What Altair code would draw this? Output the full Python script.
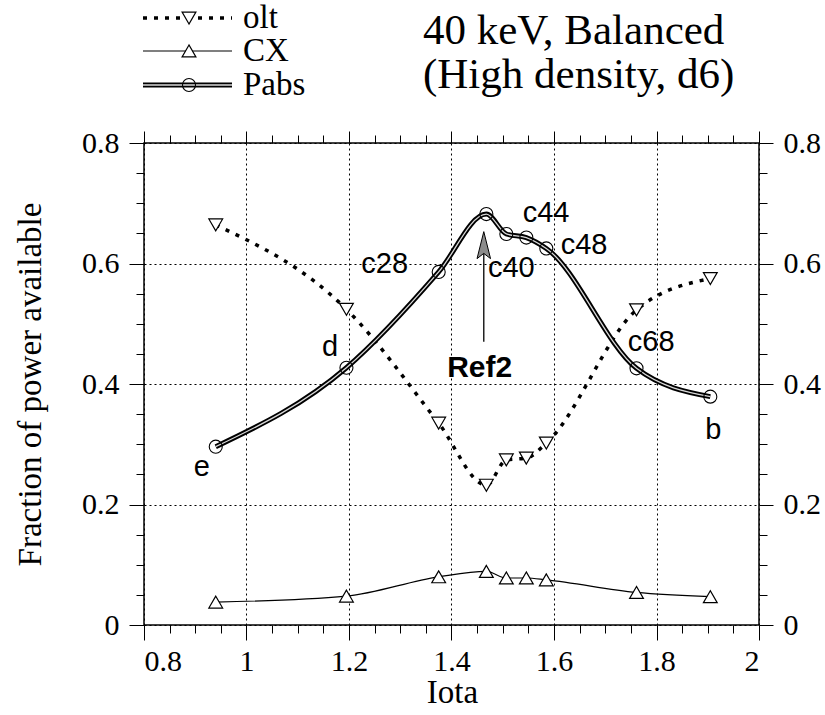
import altair as alt
import pandas as pd

# ---------------- data ----------------
iota = [0.940, 1.195, 1.375, 1.468, 1.507, 1.546, 1.585, 1.761, 1.905]
olt = [0.664, 0.524, 0.335, 0.232, 0.274, 0.277, 0.302, 0.523, 0.575]
cx = [0.038, 0.048, 0.080, 0.089, 0.078, 0.078, 0.075, 0.054, 0.047]
pabs = [0.296, 0.427, 0.586, 0.682, 0.649, 0.643, 0.625, 0.426, 0.379]

series_names = ["olt", "CX", "Pabs"]

x_major = [0.8, 1.0, 1.2, 1.4, 1.6, 1.8, 2.0]
x_minor = [0.85, 0.9, 0.95, 1.05, 1.1, 1.15, 1.25, 1.3, 1.35, 1.45, 1.5, 1.55,
           1.65, 1.7, 1.75, 1.85, 1.9, 1.95]
y_major = [0.0, 0.2, 0.4, 0.6, 0.8]
y_minor = [0.05, 0.1, 0.15, 0.25, 0.3, 0.35, 0.45, 0.5, 0.55, 0.65, 0.7, 0.75]

center_labels = ["e", "d", "b"]
center_label_x = [0.913, 1.163, 1.911]
center_label_y = [0.263, 0.462, 0.324]
left_labels = ["c28", "c40", "c44", "c48", "c68"]
left_label_x = [1.224, 1.471, 1.539, 1.613, 1.744]
left_label_y = [0.599, 0.593, 0.684, 0.631, 0.470]

ref_label = ["Ref2"]
ref_x = [1.455]
ref_y = [0.427]
arrow_x = [1.463]
arrow_y0 = [0.470]
arrow_y1 = [0.628]

title_lines = ["40 keV, Balanced", "(High density, d6)"]
x_title = "Iota"
y_title = "Fraction of power available"

# ---------------- tables ----------------
df = pd.DataFrame({"iota": iota, "olt": olt, "cx": cx, "pabs": pabs})
lab_c = pd.DataFrame({"t": center_labels, "x": center_label_x, "y": center_label_y})
lab_l = pd.DataFrame({"t": left_labels, "x": left_label_x, "y": left_label_y})
ref_df = pd.DataFrame({"t": ref_label, "x": ref_x, "y": ref_y})
arrow_df = pd.DataFrame({"x": arrow_x, "y0": arrow_y0, "y1": arrow_y1})

SERIF = "Liberation Serif"
SANS = "Liberation Sans"

xs = alt.Scale(domain=[0.8, 2.0], nice=False, zero=False)
ys = alt.Scale(domain=[0.0, 0.8], nice=False, zero=False)


def X(f):
    return alt.X(f, type="quantitative", scale=xs, axis=None)


def Y(f):
    return alt.Y(f, type="quantitative", scale=ys, axis=None)


base = alt.Chart(df)

olt_line = base.mark_line(color="black", strokeWidth=3.5, strokeDash=[4, 7],
                          interpolate="monotone").encode(x=X("iota"), y=Y("olt"))
cx_line = base.mark_line(color="black", strokeWidth=1.2,
                         interpolate="monotone").encode(x=X("iota"), y=Y("cx"))
pabs_outer = base.mark_line(color="black", strokeWidth=5,
                            interpolate="monotone").encode(x=X("iota"), y=Y("pabs"))
pabs_inner = base.mark_line(color="#d8d8d8", strokeWidth=1.3,
                            interpolate="monotone").encode(x=X("iota"), y=Y("pabs"))

olt_pts = base.mark_point(shape="triangle-down", size=190, filled=True, fill="white",
                          stroke="black", strokeWidth=1.2, opacity=1).encode(x=X("iota"), y=Y("olt"))
cx_pts = base.mark_point(shape="triangle-up", size=190, filled=True, fill="white",
                         stroke="black", strokeWidth=1.2, opacity=1).encode(x=X("iota"), y=Y("cx"))
pabs_pts = base.mark_point(shape="circle", size=170, filled=False,
                           stroke="black", strokeWidth=1.1, opacity=1).encode(x=X("iota"), y=Y("pabs"))

txt_c = alt.Chart(lab_c).mark_text(font=SANS, fontSize=29, align="center", baseline="middle",
                                   color="black").encode(x=X("x"), y=Y("y"), text="t:N")
txt_l = alt.Chart(lab_l).mark_text(font=SANS, fontSize=29, align="left", baseline="middle",
                                   color="black").encode(x=X("x"), y=Y("y"), text="t:N")
ref_txt = alt.Chart(ref_df).mark_text(font=SANS, fontSize=30, fontWeight="bold", align="center",
                                      baseline="middle", color="black").encode(x=X("x"), y=Y("y"), text="t:N")
arrow_rule = alt.Chart(arrow_df).mark_rule(color="black", strokeWidth=1.3).encode(
    x=X("x"), y=Y("y0"), y2="y1")
arrow_head = alt.Chart(arrow_df).mark_point(
    shape="M0,-1L0.45,0.8L0,0.45L-0.45,0.8Z", size=900, filled=True, fill="#8c8c8c",
    stroke="black", strokeWidth=1, opacity=1).encode(x=X("x"), y=Y("y1"))

# ---------------- axes ----------------
ax_df = pd.DataFrame({"x": [0.8], "y": [0.0]})
common = dict(labelFont=SERIF, labelColor="black", tickColor="black", domain=False,
              titleFont=SERIF, titleColor="black", titleFontWeight="normal")


def axis_layer(xaxis, yaxis):
    return alt.Chart(ax_df).mark_point(opacity=0).encode(
        x=alt.X("x:Q", scale=xs, axis=xaxis), y=alt.Y("y:Q", scale=ys, axis=yaxis))


bottom_major = alt.Axis(orient="bottom", values=x_major, format="~g", tickSize=15, labelFontSize=30,
                        labelPadding=6, grid=True, gridDash=[2, 3], gridColor="black", gridWidth=1,
                        gridOpacity=1, title=x_title, titleFontSize=33, titleX=308, titleY=67,
                        titleBaseline="middle", titleAlign="center", **common)
left_major = alt.Axis(orient="left", values=y_major, format="~g", tickSize=15, labelFontSize=30,
                      labelPadding=10, grid=True, gridDash=[2, 3], gridColor="black", gridWidth=1,
                      gridOpacity=1, title=y_title, titleFontSize=33, titleAngle=270, titleX=-114,
                      titleY=241, titleBaseline="middle", titleAlign="center", **common)
bottom_minor = alt.Axis(orient="bottom", values=x_minor, tickSize=8, labels=False, grid=False,
                        title=None, **common)
left_minor = alt.Axis(orient="left", values=y_minor, tickSize=8, labels=False, grid=False,
                      title=None, **common)
top_major = alt.Axis(orient="top", values=x_major, tickSize=12, labels=False, grid=False,
                     title=None, **common)
right_major = alt.Axis(orient="right", values=y_major, format="~g", tickSize=14, labelFontSize=30,
                       labelPadding=10, grid=False, title=None, **common)
top_minor = alt.Axis(orient="top", values=x_minor, tickSize=8, labels=False, grid=False,
                     title=None, **common)
right_minor = alt.Axis(orient="right", values=y_minor, tickSize=8, labels=False, grid=False,
                       title=None, **common)

ax1 = axis_layer(bottom_major, left_major)
ax2 = axis_layer(bottom_minor, left_minor)
ax3 = axis_layer(top_major, right_major)
ax4 = axis_layer(top_minor, right_minor)

# ---------------- legend & title (outside the plot area) ----------------
leg_rows = [-125, -92, -58]
leg_layers = []
one = pd.DataFrame({"k": [0]})
for name, yy in zip(series_names, leg_rows):
    if name == "Pabs":
        leg_layers.append(alt.Chart(one).mark_rule(color="black", strokeWidth=5).encode(
            x=alt.value(-1), x2=alt.value(88), y=alt.value(yy)))
        leg_layers.append(alt.Chart(one).mark_rule(color="#d8d8d8", strokeWidth=1.3).encode(
            x=alt.value(-1), x2=alt.value(88), y=alt.value(yy)))
        leg_layers.append(alt.Chart(one).mark_point(shape="circle", size=170, filled=False,
                                                    stroke="black", strokeWidth=1.1, opacity=1).encode(
            x=alt.value(45), y=alt.value(yy)))
    elif name == "olt":
        leg_layers.append(alt.Chart(one).mark_rule(color="black", strokeWidth=3.5, strokeDash=[4, 7]).encode(
            x=alt.value(-1), x2=alt.value(88), y=alt.value(yy)))
        leg_layers.append(alt.Chart(one).mark_point(shape="triangle-down", size=190, filled=True,
                                                    fill="white", stroke="black", strokeWidth=1.2,
                                                    opacity=1).encode(x=alt.value(45), y=alt.value(yy)))
    else:
        leg_layers.append(alt.Chart(one).mark_rule(color="black", strokeWidth=1.2).encode(
            x=alt.value(-1), x2=alt.value(88), y=alt.value(yy)))
        leg_layers.append(alt.Chart(one).mark_point(shape="triangle-up", size=190, filled=True,
                                                    fill="white", stroke="black", strokeWidth=1.2,
                                                    opacity=1).encode(x=alt.value(45), y=alt.value(yy)))
    leg_layers.append(alt.Chart(pd.DataFrame({"t": [name]})).mark_text(
        font=SERIF, fontSize=33, align="left", baseline="middle", color="black").encode(
        x=alt.value(99), y=alt.value(yy), text="t:N"))

title_layers = []
for line, yy in zip(title_lines, [-99, -55]):
    title_layers.append(alt.Chart(pd.DataFrame({"t": [line]})).mark_text(
        font=SERIF, fontSize=43, align="left", baseline="alphabetic", color="black").encode(
        x=alt.value(279), y=alt.value(yy), text="t:N"))

chart = alt.layer(
    ax1, ax2, ax3, ax4,
    cx_line, olt_line, pabs_outer, pabs_inner,
    cx_pts, olt_pts, pabs_pts,
    arrow_rule, arrow_head, txt_c, txt_l, ref_txt,
    *leg_layers, *title_layers,
).resolve_axis(x="independent", y="independent").properties(
    width=615, height=482,
    padding={"left": 144, "top": 143, "right": 66, "bottom": 90},
    autosize=alt.AutoSizeParams(type="none"),
    background="white",
).configure_view(stroke="black", strokeWidth=1.5)

chart.save("out.html", embed_options={"renderer": "svg", "actions": False})
